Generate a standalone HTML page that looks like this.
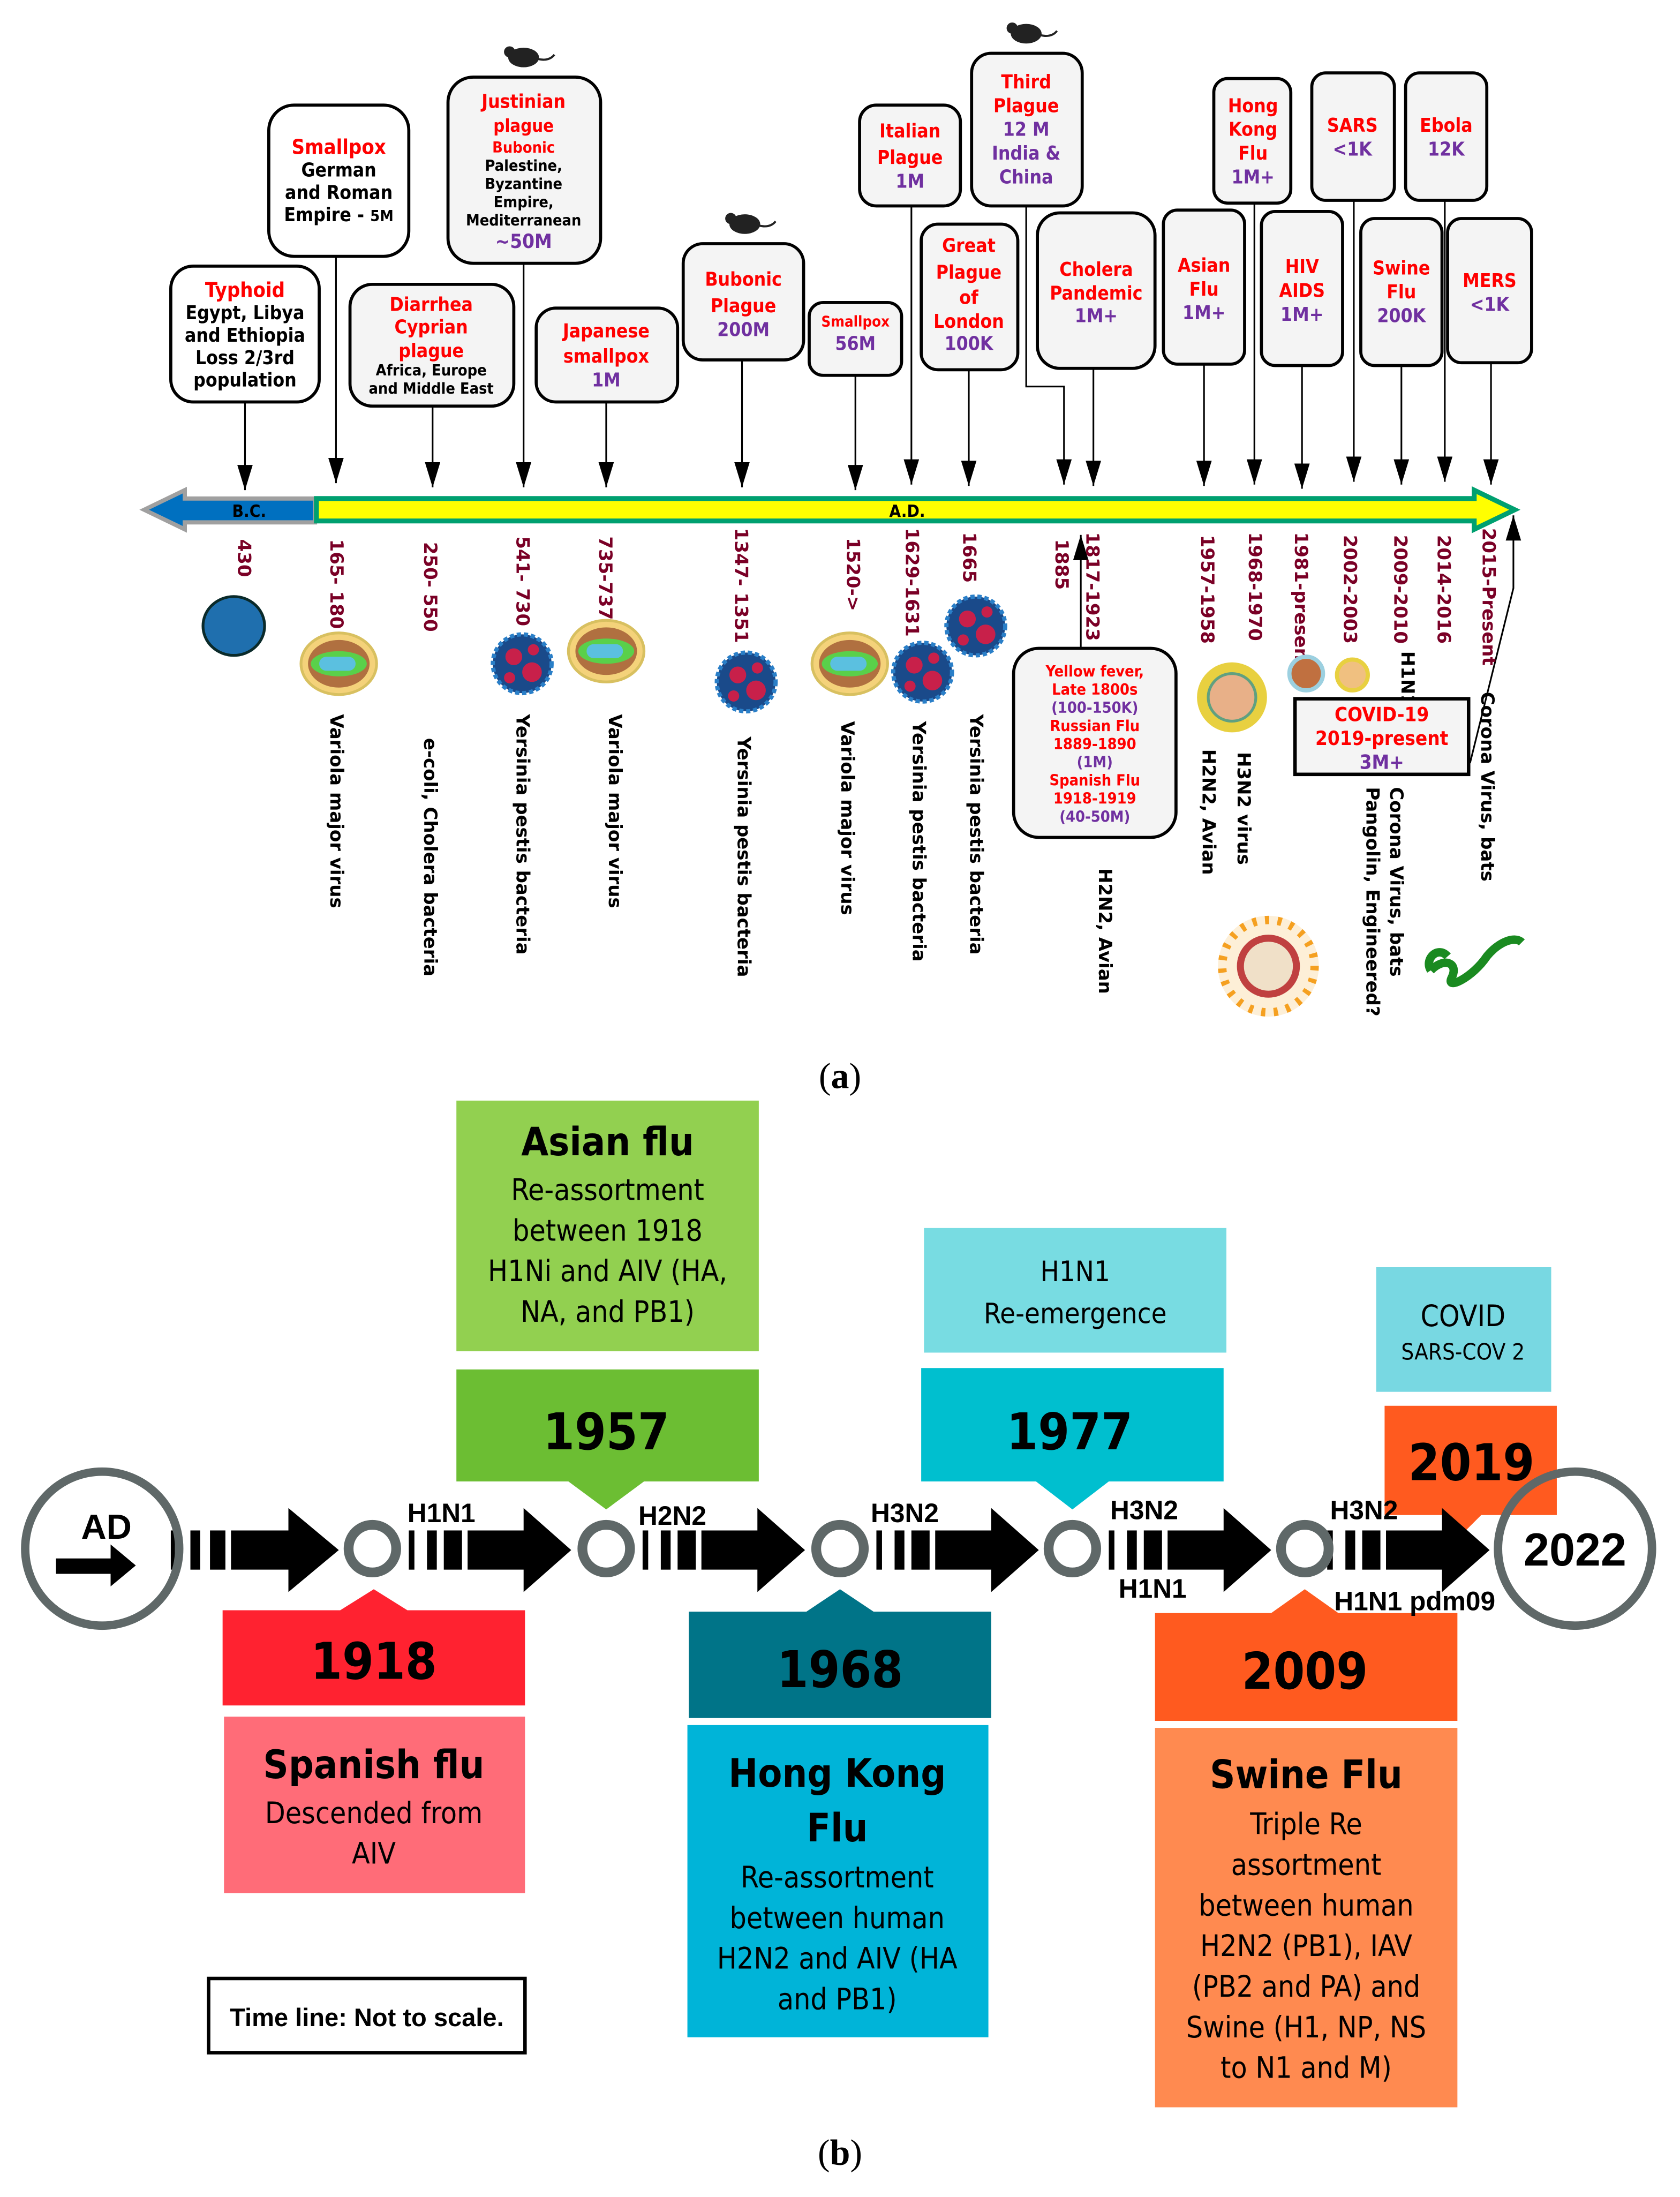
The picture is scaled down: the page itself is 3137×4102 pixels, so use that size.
<!DOCTYPE html>
<html><head><meta charset="utf-8"><style>
html,body{margin:0;padding:0;background:#fff}
svg{display:block}
.c{font-family:"DejaVu Sans Condensed","DejaVu Sans",sans-serif;font-weight:bold;text-anchor:middle}
.r{fill:#ff0000}.p{fill:#7030a0}.k{fill:#000}
.d{font-family:"DejaVu Sans",sans-serif;font-weight:bold;font-size:13px;fill:#7a0026}
.o{font-family:"DejaVu Sans",sans-serif;font-weight:bold;font-size:13px;fill:#000}
.b{font-family:"DejaVu Sans Condensed","Liberation Sans",sans-serif;text-anchor:middle;fill:#000}
.box{fill:#f4f4f4;stroke:#000;stroke-width:2.2}
.ln{stroke:#000;stroke-width:1.2;fill:none}
</style></head><body>
<svg width="3137" height="4102" viewBox="0 0 1200 1569" xmlns="http://www.w3.org/2000/svg">
<defs>
<marker id="ah" markerWidth="18" markerHeight="11" refX="18" refY="5.5" orient="auto" markerUnits="userSpaceOnUse" viewBox="0 0 18 11"><path d="M0,0 L18,5.5 L0,11 Z" fill="#000"/></marker>
<g id="var"><ellipse cx="0" cy="0" rx="27" ry="22" fill="#f4d27a" stroke="#d8c060" stroke-width="2"/><ellipse cx="0" cy="0" rx="22" ry="17" fill="#b07040"/><ellipse cx="0" cy="0" rx="20" ry="9" fill="#5ad04a"/><rect x="-14" y="-5" width="26" height="10" rx="5" fill="#5bc0e0"/></g>
<g id="yer"><circle r="21" fill="#1a4a8a"/><circle r="21" fill="none" stroke="#2a7fc8" stroke-width="3" stroke-dasharray="3 2"/><circle cx="-6" cy="-5" r="6" fill="#c8204a"/><circle cx="7" cy="6" r="7" fill="#c8204a"/><circle cx="8" cy="-10" r="4" fill="#c8204a"/><circle cx="-9" cy="10" r="4" fill="#c8204a"/></g>
</defs>

<g class="c" font-size="13.5">
<rect class="box" x="122" y="190" width="106" height="97" rx="16" style="fill:#fff"/>
<text x="175" y="212" class="r" font-size="14.5">Typhoid</text>
<text x="175" y="228">Egypt, Libya</text><text x="175" y="244">and Ethiopia</text><text x="175" y="260">Loss 2/3rd</text><text x="175" y="276">population</text>

<rect class="box" x="192" y="75" width="100" height="108" rx="18" style="fill:#fff"/>
<text x="242" y="110" class="r" font-size="14.5">Smallpox</text>
<text x="242" y="126">German</text><text x="242" y="142">and Roman</text><text x="242" y="158">Empire - <tspan font-size="11">5M</tspan></text>

<rect class="box" x="320" y="55" width="109" height="133" rx="18"/>
<text x="374" y="77" class="r" font-size="13.5">Justinian</text>
<text x="374" y="94" class="r" font-size="12.5">plague</text>
<text x="374" y="109" class="r" font-size="11">Bubonic</text>
<text x="374" y="122" font-size="11">Palestine,</text><text x="374" y="135" font-size="11">Byzantine</text><text x="374" y="148" font-size="11">Empire,</text><text x="374" y="161" font-size="11">Mediterranean</text>
<text x="374" y="177" class="p" font-size="14">~50M</text>

<rect class="box" x="250" y="203" width="117" height="87" rx="16"/>
<text x="308" y="222" class="r">Diarrhea</text><text x="308" y="238" class="r">Cyprian</text><text x="308" y="255" class="r">plague</text>
<text x="308" y="268" font-size="11">Africa, Europe</text><text x="308" y="281" font-size="11">and Middle East</text>

<rect class="box" x="383" y="220" width="101" height="67" rx="14"/>
<text x="433" y="241" class="r">Japanese</text><text x="433" y="259" class="r">smallpox</text><text x="433" y="276" class="p">1M</text>

<rect class="box" x="488" y="174" width="86" height="83" rx="14"/>
<text x="531" y="204" class="r">Bubonic</text><text x="531" y="223" class="r">Plague</text><text x="531" y="240" class="p">200M</text>

<rect class="box" x="578" y="216" width="66" height="52" rx="10"/>
<text x="611" y="233" class="r" font-size="10.5">Smallpox</text><text x="611" y="250" class="p">56M</text>

<rect class="box" x="614" y="75" width="72" height="72" rx="12"/>
<text x="650" y="98" class="r">Italian</text><text x="650" y="117" class="r">Plague</text><text x="650" y="134" class="p">1M</text>

<rect class="box" x="694" y="38" width="79" height="109" rx="14"/>
<text x="733" y="63" class="r">Third</text><text x="733" y="80" class="r">Plague</text><text x="733" y="97" class="p">12 M</text><text x="733" y="114" class="p">India &amp;</text><text x="733" y="131" class="p">China</text>

<rect class="box" x="658" y="160" width="69" height="104" rx="12"/>
<text x="692" y="180" class="r">Great</text><text x="692" y="199" class="r">Plague</text><text x="692" y="217" class="r">of</text><text x="692" y="234" class="r">London</text><text x="692" y="250" class="p">100K</text>

<rect class="box" x="741" y="152" width="84" height="111" rx="16"/>
<text x="783" y="197" class="r">Cholera</text><text x="783" y="214" class="r">Pandemic</text><text x="783" y="230" class="p">1M+</text>

<rect class="box" x="831" y="150" width="58" height="110" rx="10"/>
<text x="860" y="194" class="r">Asian</text><text x="860" y="211" class="r">Flu</text><text x="860" y="228" class="p">1M+</text>

<rect class="box" x="867" y="56" width="55" height="89" rx="10"/>
<text x="895" y="80" class="r">Hong</text><text x="895" y="97" class="r">Kong</text><text x="895" y="114" class="r">Flu</text><text x="895" y="131" class="p">1M+</text>

<rect class="box" x="901" y="151" width="58" height="110" rx="10"/>
<text x="930" y="195" class="r">HIV</text><text x="930" y="212" class="r">AIDS</text><text x="930" y="229" class="p">1M+</text>

<rect class="box" x="937" y="52" width="59" height="91" rx="10"/>
<text x="966" y="94" class="r">SARS</text><text x="966" y="111" class="p">&lt;1K</text>

<rect class="box" x="972" y="156" width="58" height="105" rx="10"/>
<text x="1001" y="196" class="r">Swine</text><text x="1001" y="213" class="r">Flu</text><text x="1001" y="230" class="p">200K</text>

<rect class="box" x="1004" y="52" width="58" height="91" rx="10"/>
<text x="1033" y="94" class="r">Ebola</text><text x="1033" y="111" class="p">12K</text>

<rect class="box" x="1034" y="156" width="60" height="103" rx="10"/>
<text x="1064" y="205" class="r">MERS</text><text x="1064" y="222" class="p">&lt;1K</text>
</g>

<g fill="#222">
<ellipse cx="374" cy="41" rx="11" ry="7"/><circle cx="364" cy="37" r="4"/><path d="M384,42 q8,2 12,-3" stroke="#222" stroke-width="1.5" fill="none"/>
<ellipse cx="532" cy="160" rx="11" ry="7"/><circle cx="522" cy="156" r="4"/><path d="M542,161 q8,2 12,-3" stroke="#222" stroke-width="1.5" fill="none"/>
<ellipse cx="733" cy="24" rx="11" ry="7"/><circle cx="723" cy="20" r="4"/><path d="M743,25 q8,2 12,-3" stroke="#222" stroke-width="1.5" fill="none"/>
</g>

<g class="ln">
<line x1="175" y1="287" x2="175" y2="350" marker-end="url(#ah)"/>
<line x1="240" y1="183" x2="240" y2="345" marker-end="url(#ah)"/>
<line x1="309" y1="290" x2="309" y2="348" marker-end="url(#ah)"/>
<line x1="374" y1="188" x2="374" y2="348" marker-end="url(#ah)"/>
<line x1="433" y1="287" x2="433" y2="348" marker-end="url(#ah)"/>
<line x1="530" y1="257" x2="530" y2="348" marker-end="url(#ah)"/>
<line x1="611" y1="268" x2="611" y2="350" marker-end="url(#ah)"/>
<line x1="651" y1="147" x2="651" y2="346" marker-end="url(#ah)"/>
<line x1="692" y1="264" x2="692" y2="347" marker-end="url(#ah)"/>
<polyline points="733,147 733,276 760,276 760,346" marker-end="url(#ah)"/>
<line x1="781" y1="263" x2="781" y2="347" marker-end="url(#ah)"/>
<line x1="860" y1="260" x2="860" y2="347" marker-end="url(#ah)"/>
<line x1="896" y1="145" x2="896" y2="346" marker-end="url(#ah)"/>
<line x1="930" y1="261" x2="930" y2="349" marker-end="url(#ah)"/>
<line x1="967" y1="143" x2="967" y2="344" marker-end="url(#ah)"/>
<line x1="1001" y1="261" x2="1001" y2="346" marker-end="url(#ah)"/>
<line x1="1032" y1="143" x2="1032" y2="344" marker-end="url(#ah)"/>
<line x1="1065" y1="259" x2="1065" y2="346" marker-end="url(#ah)"/>
<line x1="772" y1="463" x2="772" y2="382" marker-end="url(#ah)"/>
<polyline points="1050,545 1081,420 1081,368" marker-end="url(#ah)"/>
</g>

<path d="M103,364 L132,350 L132,356 L225,356 L225,373 L132,373 L132,378 Z" fill="#0070c0" stroke="#a0a0a0" stroke-width="3"/>
<path d="M226,356 L1053,356 L1053,350 L1082,364 L1053,378 L1053,372 L226,372 Z" fill="#ffff00" stroke="#00a070" stroke-width="3.5"/>
<text x="178" y="369" font-family="DejaVu Sans Condensed,sans-serif" font-weight="bold" font-size="12" text-anchor="middle">B.C.</text>
<text x="648" y="369" font-family="DejaVu Sans Condensed,sans-serif" font-weight="bold" font-size="12" text-anchor="middle">A.D.</text>

<g class="d">
<text transform="translate(170,385) rotate(90)">430</text>
<text transform="translate(236,385) rotate(90)">165- 180</text>
<text transform="translate(303,387) rotate(90)">250- 550</text>
<text transform="translate(369,383) rotate(90)">541- 730</text>
<text transform="translate(428,383) rotate(90)">735-737</text>
<text transform="translate(525,377) rotate(90)">1347- 1351</text>
<text transform="translate(605,384) rotate(90)">1520-&gt;</text>
<text transform="translate(647,377) rotate(90)">1629-1631</text>
<text transform="translate(688,380) rotate(90)">1665</text>
<text transform="translate(754,385) rotate(90)">1885</text>
<text transform="translate(776,380) rotate(90)">1817-1923</text>
<text transform="translate(858,382) rotate(90)">1957-1958</text>
<text transform="translate(892,380) rotate(90)">1968-1970</text>
<text transform="translate(925,380) rotate(90)">1981-present</text>
<text transform="translate(960,382) rotate(90)">2002-2003</text>
<text transform="translate(996,382) rotate(90)">2009-2010</text>
<text transform="translate(1027,382) rotate(90)">2014-2016</text>
<text transform="translate(1059,377) rotate(90)">2015-Present</text>
</g>
<g class="o">
<text transform="translate(236,510) rotate(90)">Variola major virus</text>
<text transform="translate(303,527) rotate(90)">e-coli, Cholera bacteria</text>
<text transform="translate(369,510) rotate(90)">Yersinia pestis bacteria</text>
<text transform="translate(435,510) rotate(90)">Variola major virus</text>
<text transform="translate(527,526) rotate(90)">Yersinia pestis bacteria</text>
<text transform="translate(601,515) rotate(90)">Variola major virus</text>
<text transform="translate(652,515) rotate(90)">Yersinia pestis bacteria</text>
<text transform="translate(693,510) rotate(90)">Yersinia pestis bacteria</text>
<text transform="translate(785,620) rotate(90)">H2N2, Avian</text>
<text transform="translate(859,535) rotate(90)">H2N2, Avian</text>
<text transform="translate(884,537) rotate(90)">H3N2 virus</text>
<text transform="translate(1001,465) rotate(90)">H1N1</text>
<text transform="translate(993,562) rotate(90)">Corona Virus, bats</text>
<text transform="translate(976,562) rotate(90)">Pangolin, Engineered?</text>
<text transform="translate(1058,494) rotate(90)">Corona Virus, bats</text>
</g>

<ellipse cx="167" cy="447" rx="22" ry="21" fill="#1f6fae" stroke="#0a2a2a" stroke-width="2"/>
<use href="#var" x="242" y="474"/><use href="#var" x="433" y="465"/><use href="#var" x="607" y="474"/>
<use href="#yer" x="373" y="474"/><use href="#yer" x="533" y="487"/><use href="#yer" x="659" y="480"/><use href="#yer" x="697" y="447"/>
<circle cx="880" cy="498" r="25" fill="#e8d040"/><circle cx="880" cy="498" r="17" fill="#e8b088" stroke="#60a080" stroke-width="2"/>
<circle cx="933" cy="481" r="12" fill="#c07040" stroke="#9cd0e0" stroke-width="3"/>
<circle cx="966" cy="482" r="11" fill="#f0c080" stroke="#e8d040" stroke-width="3"/>
<circle cx="906" cy="690" r="36" fill="#fbe0b0" opacity="0.5"/><circle cx="906" cy="690" r="33" fill="none" stroke="#f5a020" stroke-width="6" stroke-dasharray="3 6"/><circle cx="906" cy="690" r="20" fill="#f0e0c8" stroke="#c04040" stroke-width="5"/>
<path d="M1022,693 c10,-10 20,-5 15,5 c-5,10 15,0 25,-15 c8,-10 20,-15 25,-10 M1022,693 c-5,-8 5,-18 12,-10" stroke="#1a8a20" stroke-width="6" fill="none"/>

<rect class="box" x="724" y="463" width="116" height="135" rx="18"/>
<g class="c" font-size="11">
<text x="782" y="483" class="r">Yellow fever,</text><text x="782" y="496" class="r">Late 1800s</text><text x="782" y="509" class="p">(100-150K)</text>
<text x="782" y="522" class="r">Russian Flu</text><text x="782" y="535" class="r">1889-1890</text><text x="782" y="548" class="p">(1M)</text>
<text x="782" y="561" class="r">Spanish Flu</text><text x="782" y="574" class="r">1918-1919</text><text x="782" y="587" class="p">(40-50M)</text>
</g>
<rect x="925" y="499" width="124" height="54" fill="#f4f4f4" stroke="#000" stroke-width="2.5"/>
<g class="c" font-size="14"><text x="987" y="515" class="r">COVID-19</text><text x="987" y="532" class="r">2019-present</text><text x="987" y="549" class="p">3M+</text></g>

<text x="600" y="777" font-family="Liberation Serif,serif" font-size="26" text-anchor="middle">(<tspan font-weight="bold">a</tspan>)</text>

<rect x="326" y="786" width="216" height="179" fill="#92d050"/>
<text class="b" x="434" y="825" font-size="28" font-weight="bold">Asian flu</text>
<g class="b" font-size="21"><text x="434" y="857">Re-assortment</text><text x="434" y="886">between 1918</text><text x="434" y="915">H1Ni and AIV (HA,</text><text x="434" y="944">NA, and PB1)</text></g>
<path d="M326,978 H542 V1058 H460 L433,1078 L406,1058 H326 Z" fill="#6cbe33"/>
<text class="b" x="433" y="1035" font-size="36" font-weight="bold" font-family="Liberation Sans,sans-serif">1957</text>

<rect x="660" y="877" width="216" height="89" fill="#78dce2"/>
<g class="b" font-size="20"><text x="768" y="915">H1N1</text><text x="768" y="945">Re-emergence</text></g>
<path d="M658,977 H874 V1058 H792 L766,1078 L740,1058 H658 Z" fill="#00bfcf"/>
<text class="b" x="764" y="1035" font-size="36" font-weight="bold" font-family="Liberation Sans,sans-serif">1977</text>

<rect x="983" y="905" width="125" height="89" fill="#78d8e2"/>
<text class="b" x="1045" y="947" font-size="21">COVID</text><text class="b" x="1045" y="971" font-size="16">SARS-COV 2</text>
<path d="M989,1004 H1112 V1082 H1058 L1040,1100 L1032,1082 H989 Z" fill="#ff5a1f"/>
<text class="b" x="1051" y="1057" font-size="36" font-weight="bold" font-family="Liberation Sans,sans-serif">2019</text>

<path d="M159,1150 H243 L267,1135 L291,1150 H375 V1218 H159 Z" fill="#ff2230"/>
<text class="b" x="267" y="1199" font-size="36" font-weight="bold" font-family="Liberation Sans,sans-serif">1918</text>
<rect x="160" y="1226" width="215" height="126" fill="#ff6c78"/>
<text class="b" x="267" y="1270" font-size="28" font-weight="bold">Spanish flu</text>
<g class="b" font-size="21"><text x="267" y="1302">Descended from</text><text x="267" y="1331">AIV</text></g>

<path d="M492,1151 H576 L600,1135 L624,1151 H708 V1227 H492 Z" fill="#007488"/>
<text class="b" x="600" y="1205" font-size="36" font-weight="bold" font-family="Liberation Sans,sans-serif">1968</text>
<rect x="491" y="1232" width="215" height="223" fill="#00b4d8"/>
<g class="b" font-size="28" font-weight="bold"><text x="598" y="1276">Hong Kong</text><text x="598" y="1315">Flu</text></g>
<g class="b" font-size="21"><text x="598" y="1348">Re-assortment</text><text x="598" y="1377">between human</text><text x="598" y="1406">H2N2 and AIV (HA</text><text x="598" y="1435">and PB1)</text></g>

<path d="M825,1152 H908 L932,1135 L956,1152 H1041 V1229 H825 Z" fill="#ff5a1f"/>
<text class="b" x="932" y="1206" font-size="36" font-weight="bold" font-family="Liberation Sans,sans-serif">2009</text>
<rect x="825" y="1234" width="216" height="271" fill="#ff8a50"/>
<text class="b" x="933" y="1277" font-size="28" font-weight="bold">Swine Flu</text>
<g class="b" font-size="21"><text x="933" y="1310">Triple Re</text><text x="933" y="1339">assortment</text><text x="933" y="1368">between human</text><text x="933" y="1397">H2N2 (PB1), IAV</text><text x="933" y="1426">(PB2 and PA) and</text><text x="933" y="1455">Swine (H1, NP, NS</text><text x="933" y="1484">to N1 and M)</text></g>

<g fill="#000">
<rect x="122" y="1093" width="3" height="28"/><rect x="136" y="1093" width="7" height="28"/><rect x="150" y="1093" width="11" height="28"/>
<path d="M165,1093 H206 V1077 L242,1107 L206,1137 V1121 H165 Z"/>
</g>
<g id="seg1" fill="#000">
<rect x="292" y="1093" width="4" height="28"/><rect x="305" y="1093" width="7" height="28"/><rect x="317" y="1093" width="13" height="28"/>
<path d="M334,1093 H374 V1077 L408,1107 L374,1137 V1121 H334 Z"/>
</g>
<use href="#seg1" x="167"/><use href="#seg1" x="334"/><use href="#seg1" x="500"/><use href="#seg1" x="656"/>
<g fill="none" stroke="#5f6868" stroke-width="7">
<circle cx="266" cy="1106" r="17"/><circle cx="433" cy="1106" r="17"/><circle cx="600" cy="1106" r="17"/><circle cx="766" cy="1106" r="17"/><circle cx="932" cy="1106" r="17"/>
</g>
<circle cx="73" cy="1106" r="55" fill="none" stroke="#5f6868" stroke-width="6"/>
<text x="76" y="1099" font-family="Liberation Sans,sans-serif" font-weight="bold" font-size="25" text-anchor="middle">AD</text>
<path d="M40,1113 H79 V1103 L97,1118 L79,1133 V1124 H40 Z" fill="#000"/>
<circle cx="1125" cy="1106" r="55" fill="none" stroke="#5f6868" stroke-width="6"/>
<text x="1125" y="1118" font-family="Liberation Sans,sans-serif" font-weight="bold" font-size="33" text-anchor="middle">2022</text>
<g font-family="Liberation Sans,sans-serif" font-weight="bold" font-size="19">
<text x="291" y="1087">H1N1</text><text x="456" y="1089">H2N2</text><text x="622" y="1087">H3N2</text>
<text x="793" y="1085">H3N2</text><text x="799" y="1141">H1N1</text>
<text x="950" y="1085">H3N2</text><text x="953" y="1150">H1N1 pdm09</text>
</g>

<rect x="149" y="1413" width="226" height="53" fill="#fff" stroke="#000" stroke-width="2.5"/>
<text x="262" y="1447" font-family="Liberation Sans,sans-serif" font-weight="bold" font-size="18" text-anchor="middle">Time line: Not to scale.</text>

<text x="600" y="1546" font-family="Liberation Serif,serif" font-size="26" text-anchor="middle">(<tspan font-weight="bold">b</tspan>)</text>
</svg>
</body></html>
